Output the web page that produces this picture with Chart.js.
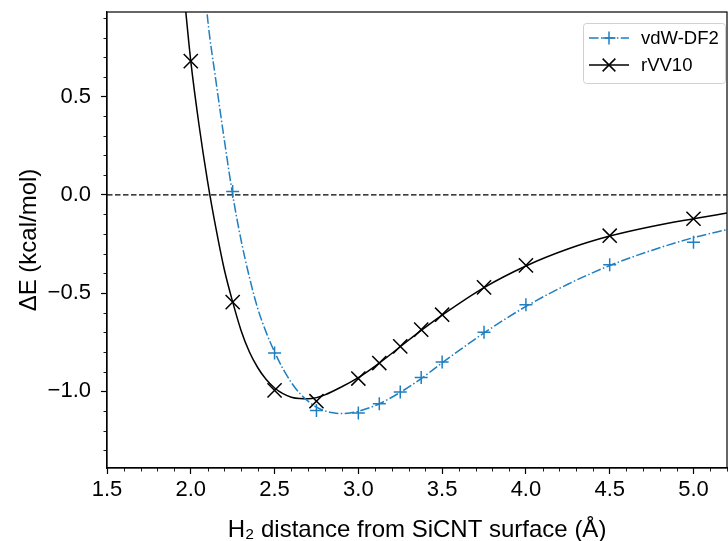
<!DOCTYPE html>
<html>
<head>
<meta charset="utf-8">
<script src="https://cdn.jsdelivr.net/npm/chart.js@4.4.0/dist/chart.umd.min.js"></script>
<style>
  html, body { margin: 0; padding: 0; background: #fff; }
  #wrap { width: 728px; height: 541px; }
</style>
</head>
<body>
<div id="wrap"><canvas id="chart" width="728" height="541"></canvas></div>
<script>
// data
const rvvX = [2.0, 2.25, 2.5, 2.75, 3.0, 3.125, 3.25, 3.375, 3.5, 3.75, 4.0, 4.5, 5.0]
const rvvY = [0.68, -0.546, -0.995, -1.05, -0.935, -0.856, -0.771, -0.686, -0.61, -0.471, -0.359, -0.208, -0.122]

const dfX = [2.25, 2.5, 2.75, 3.0, 3.125, 3.25, 3.375, 3.5, 3.75, 4.0, 4.5, 5.0]
const dfY = [0.017, -0.805, -1.097, -1.11, -1.063, -1.003, -0.929, -0.851, -0.699, -0.559, -0.356, -0.241]

// fitted curves
const rvvCurveX = [1.96, 2.0, 2.05, 2.1, 2.15, 2.2, 2.25, 2.3, 2.35, 2.4, 2.45, 2.5, 2.55, 2.6, 2.65, 2.7, 2.75, 2.8, 2.9, 3.0, 3.125, 3.25, 3.375, 3.5, 3.75, 4.0, 4.25, 4.5, 4.75, 5.0, 5.2]
const rvvCurveY = [1.02, 0.68, 0.35, 0.07, -0.17, -0.38, -0.545, -0.69, -0.80, -0.88, -0.94, -0.983, -1.012, -1.03, -1.037, -1.038, -1.032, -1.018, -0.977, -0.93, -0.856, -0.773, -0.69, -0.612, -0.472, -0.362, -0.276, -0.21, -0.161, -0.122, -0.093]

const dfCurveX = [2.09, 2.1, 2.15, 2.2, 2.25, 2.3, 2.35, 2.4, 2.45, 2.5, 2.55, 2.6, 2.65, 2.7, 2.75, 2.8, 2.85, 2.9, 2.95, 3.0, 3.125, 3.25, 3.375, 3.5, 3.75, 4.0, 4.25, 4.5, 4.75, 5.0, 5.2]
const dfCurveY = [1.0, 0.90, 0.58, 0.28, 0.0, -0.23, -0.42, -0.58, -0.70, -0.80, -0.885, -0.955, -1.01, -1.05, -1.08, -1.099, -1.109, -1.113, -1.11, -1.102, -1.063, -1.005, -0.935, -0.855, -0.703, -0.568, -0.455, -0.36, -0.283, -0.218, -0.177]

const xTicks = [1.5, 2.0, 2.5, 3.0, 3.5, 4.0, 4.5, 5.0]
const yTicks = [-1.0, -0.5, 0.0, 0.5]
const xRange = [1.5, 5.2]
const yRange = [-1.39, 0.93]

const labels = ['vdW-DF2', 'rVV10']

// styles
const FONT = '"Liberation Sans", Arial, Helvetica, sans-serif'
const BLUE = '#1f7fc0'
const DASHDOT = [9.6, 2.4, 1.5, 2.4]

const pts = (xs, ys) => xs.map((x, i) => ({x, y: ys[i]}))
const fmt = v => v.toFixed(1).replace('-', '\u2212')

// frame, minor ticks and legend
const decorPlugin = {
  id: 'decor',
  afterDraw(chart) {
    const ctx = chart.ctx
    const a = chart.chartArea
    const xs = chart.scales.x
    const ys = chart.scales.y
    ctx.save()
    ctx.strokeStyle = '#000'

    // minor ticks
    ctx.lineWidth = 0.9
    ctx.beginPath()
    for (let i = 15; i <= 52; i++) {
      if (i % 5 === 0) continue
      const px = Math.round(xs.getPixelForValue(i / 10)) + 0.5
      ctx.moveTo(px, a.bottom)
      ctx.lineTo(px, a.bottom + 3.5)
    }
    for (let i = -13; i <= 9; i++) {
      if (i % 5 === 0) continue
      const py = Math.round(ys.getPixelForValue(i / 10)) + 0.5
      ctx.moveTo(a.left, py)
      ctx.lineTo(a.left - 3.5, py)
    }
    ctx.stroke()

    // frame
    ctx.lineWidth = 1.2
    ctx.strokeRect(a.left, a.top, a.right - a.left, a.bottom - a.top)

    // legend
    const bx = a.right - 144, by = a.top + 11, bw = 142, bh = 60
    ctx.beginPath()
    ctx.roundRect(bx + 0.5, by + 0.5, bw, bh, 3)
    ctx.fillStyle = 'rgba(255,255,255,0.8)'
    ctx.fill()
    ctx.strokeStyle = '#d0d0d0'
    ctx.lineWidth = 1
    ctx.stroke()

    const rows = [
      {y: by + 15, color: BLUE, dash: DASHDOT, style: 'cross', r: 6.5},
      {y: by + 42, color: '#000', dash: [], style: 'crossRot', r: 9}
    ]
    rows.forEach((row, i) => {
      ctx.strokeStyle = row.color
      ctx.lineWidth = 1.5
      ctx.setLineDash(row.dash)
      ctx.beginPath()
      ctx.moveTo(bx + 6, row.y)
      ctx.lineTo(bx + 46, row.y)
      ctx.stroke()
      ctx.setLineDash([])
      Chart.helpers.drawPoint(ctx, {pointStyle: row.style, radius: row.r, borderWidth: 1.5}, bx + 26, row.y)
      ctx.fillStyle = '#000'
      ctx.font = '18.5px ' + FONT
      ctx.textBaseline = 'middle'
      ctx.textAlign = 'left'
      ctx.fillText(labels[i], bx + 58, row.y + 1)
    })
    ctx.restore()
  }
}

const ctx = document.getElementById('chart')
new Chart(ctx, {
  type: 'scatter',
  data: {
    datasets: [
      {
        // vdW-DF2 points
        data: pts(dfX, dfY),
        pointStyle: 'cross',
        radius: 6.5,
        borderColor: BLUE,
        borderWidth: 1.5,
        backgroundColor: BLUE
      },
      {
        // rVV10 points
        data: pts(rvvX, rvvY),
        pointStyle: 'crossRot',
        radius: 10,
        borderColor: '#000',
        borderWidth: 1.5,
        backgroundColor: '#000'
      },
      {
        data: pts(dfCurveX, dfCurveY),
        showLine: true,
        pointRadius: 0,
        borderColor: BLUE,
        borderWidth: 1.5,
        borderDash: DASHDOT,
        cubicInterpolationMode: 'monotone',
        clip: 0
      },
      {
        data: pts(rvvCurveX, rvvCurveY),
        showLine: true,
        pointRadius: 0,
        borderColor: '#000',
        borderWidth: 1.5,
        cubicInterpolationMode: 'monotone',
        clip: 0
      },
      {
        // zero reference line
        data: pts(xRange, [0, 0]),
        showLine: true,
        pointRadius: 0,
        borderColor: '#000',
        borderWidth: 1.2,
        borderDash: [5.5, 2.5],
        clip: 0
      }
    ]
  },
  options: {
    responsive: false,
    animation: false,
    events: [],
    layout: {autoPadding: false, padding: {left: 0, top: 12, right: 1, bottom: 0}},
    plugins: {legend: {display: false}, tooltip: {enabled: false}},
    scales: {
      x: {
        type: 'linear',
        min: xRange[0],
        max: xRange[1],
        afterBuildTicks: s => { s.ticks = xTicks.map(v => ({value: v})) },
        afterFit: s => { s.height = 73; s.paddingLeft = 0; s.paddingRight = 0 },
        grid: {drawOnChartArea: false, tickLength: 6, tickColor: '#000', tickWidth: 1.2},
        border: {color: '#000', width: 1.2},
        ticks: {color: '#000', font: {family: FONT, size: 22}, padding: 3, maxRotation: 0, callback: v => fmt(v)},
        title: {display: true, text: 'H\u2082 distance from SiCNT surface (\u00c5)', color: '#000', font: {family: FONT, size: 24}, padding: {top: 2, bottom: -4}}
      },
      y: {
        type: 'linear',
        min: yRange[0],
        max: yRange[1],
        afterBuildTicks: s => { s.ticks = yTicks.map(v => ({value: v})) },
        afterFit: s => { s.width = 107; s.paddingTop = 0; s.paddingBottom = 0 },
        grid: {drawOnChartArea: false, tickLength: 6, tickColor: '#000', tickWidth: 1.2},
        border: {color: '#000', width: 1.2},
        ticks: {color: '#000', font: {family: FONT, size: 22}, padding: 10, callback: v => fmt(v)},
        title: {display: true, text: '\u0394E (kcal/mol)', color: '#000', font: {family: FONT, size: 24}, padding: {top: 15, bottom: 0}}
      }
    }
  },
  plugins: [decorPlugin]
})
</script>
</body>
</html>
